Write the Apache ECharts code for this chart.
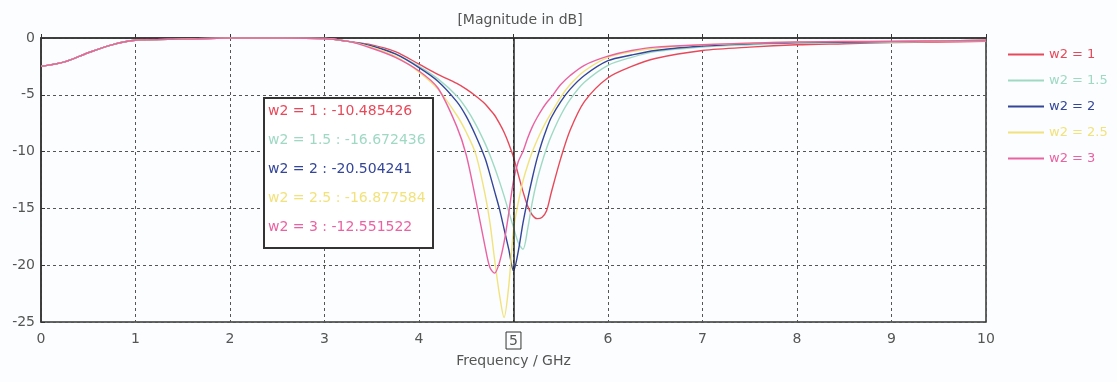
<!DOCTYPE html>
<html><head><meta charset="utf-8">
<script src="https://cdn.jsdelivr.net/npm/echarts@6/dist/echarts.min.js"></script>
<style>html,body{margin:0;padding:0;background:#fbfdfe;}#c{width:1117px;height:382px;}</style>
</head><body><div id="c"></div>
<script>
const freq = [0,0.25,0.5,0.75,1,1.5,2,2.5,3,3.25,3.5,3.75,4,4.2,4.4,4.5,4.6,4.7,4.75,4.8,4.85,4.9,4.95,5,5.05,5.1,5.15,5.2,5.25,5.3,5.35,5.4,5.5,5.6,5.75,6,6.25,6.5,7,7.5,8,8.5,9,9.5,10];
const w2_1   = [-2.5,-2.1,-1.3,-0.6,-0.2,-0.1,0,0,-0.05,-0.3,-0.6,-1.2,-2.3,-3.2,-4.0,-4.5,-5.1,-5.8,-6.3,-6.8,-7.5,-8.3,-9.3,-10.49,-12.0,-13.5,-14.8,-15.6,-15.9,-15.8,-15.2,-13.6,-10.6,-8.1,-5.6,-3.5,-2.5,-1.8,-1.1,-0.8,-0.6,-0.5,-0.4,-0.35,-0.3];
const w2_1_5 = [-2.5,-2.1,-1.3,-0.6,-0.2,-0.1,0,0,-0.05,-0.3,-0.7,-1.4,-2.5,-3.6,-5.1,-6.2,-7.6,-9.3,-10.3,-11.4,-12.6,-13.9,-15.3,-16.67,-18.0,-18.6,-16.8,-14.4,-12.5,-11.0,-9.7,-8.6,-6.8,-5.4,-3.9,-2.4,-1.7,-1.2,-0.8,-0.6,-0.45,-0.4,-0.35,-0.3,-0.25];
const w2_2   = [-2.5,-2.1,-1.3,-0.6,-0.2,-0.1,0,0,-0.05,-0.3,-0.7,-1.4,-2.6,-3.8,-5.6,-6.9,-8.6,-10.6,-12.0,-13.5,-15.0,-16.8,-18.6,-20.5,-18.8,-16.3,-14.2,-12.3,-10.6,-9.2,-8.0,-7.0,-5.6,-4.5,-3.3,-2.0,-1.5,-1.1,-0.7,-0.5,-0.4,-0.35,-0.3,-0.25,-0.2];
const w2_2_5 = [-2.5,-2.1,-1.3,-0.6,-0.2,-0.1,0,0,-0.05,-0.3,-0.8,-1.6,-3.0,-4.5,-6.8,-8.3,-10.2,-13.8,-16.2,-19.5,-22.5,-24.6,-21.8,-16.88,-14.5,-12.6,-11.2,-10.0,-9.0,-8.1,-7.3,-6.6,-5.2,-4.1,-2.9,-1.7,-1.2,-0.9,-0.6,-0.45,-0.35,-0.3,-0.3,-0.25,-0.2];
const w2_3   = [-2.5,-2.1,-1.3,-0.6,-0.2,-0.1,0,0,-0.05,-0.3,-0.9,-1.7,-2.9,-4.4,-7.8,-10.3,-14.2,-18.4,-20.2,-20.7,-19.8,-18.0,-15.4,-12.55,-10.9,-10.0,-8.8,-7.8,-7.0,-6.3,-5.7,-5.2,-4.1,-3.3,-2.4,-1.6,-1.1,-0.8,-0.6,-0.45,-0.35,-0.3,-0.3,-0.25,-0.2];
const seriesNames = ['w2 = 1','w2 = 1.5','w2 = 2','w2 = 2.5','w2 = 3'];
const markerValues = ['-10.485426','-16.672436','-20.504241','-16.877584','-12.551522'];
const markerFreq = 5;
const colors = ['#e8495a','#9fd9c4','#34469a','#f2e27c','#ea62a2'];
const allVals = [w2_1,w2_1_5,w2_2,w2_2_5,w2_3];

const chart = echarts.init(document.getElementById('c'));
const font = 'DejaVu Sans';
const series = allVals.map((v,k)=>({
  name: seriesNames[k], type:'line', showSymbol:false, smooth:0.3,
  lineStyle:{width:1.4,color:colors[k]}, itemStyle:{color:colors[k]},
  data: freq.map((f,i)=>[f,v[i]]),
  z: 3,
  markLine: k===0 ? {symbol:'none', silent:true, label:{show:false},
    lineStyle:{color:'#222',type:'solid',width:1.5}, data:[{xAxis:markerFreq}]} : undefined
}));
const rich = {};
seriesNames.forEach((n,k)=>{ rich['s'+k] = {fill:colors[k], fontSize:14, fontFamily:font, lineHeight:29}; });
const markerText = seriesNames.map((n,k)=>'{s'+k+'|'+n+' : '+markerValues[k]+'}').join('\n');

chart.setOption({
  backgroundColor:'#fbfdfe',
  animation:false,
  title:{text:'[Magnitude in dB]', left:515, top:8, textAlign:'center',
    textStyle:{fontSize:14, fontWeight:'normal', color:'#555', fontFamily:font}},
  legend:{orient:'vertical', left:1003, top:43, itemGap:13, itemWidth:36, itemHeight:2,
    icon:'rect', data:seriesNames.map((n,k)=>({name:n, textStyle:{color:colors[k]}})),
    textStyle:{fontSize:13, fontFamily:font}},
  grid:{left:41, right:131, top:38, bottom:60, show:true, borderColor:'#333', borderWidth:1.5},
  xAxis:{type:'value', min:0, max:10, interval:1,
    name:'Frequency / GHz', nameLocation:'middle', nameGap:30,
    nameTextStyle:{fontSize:14, color:'#555', fontFamily:font},
    axisLine:{lineStyle:{color:'#333', width:1.5}},
    axisTick:{inside:true, length:4, lineStyle:{color:'#333'}},
    axisLabel:{fontSize:14, color:'#555', fontFamily:font, margin:10,
      formatter:(v)=> v===markerFreq ? '{box|'+v+'}' : String(v),
      rich:{box:{borderColor:'#333', borderWidth:1, padding:[2,3,1,3], fontSize:14, color:'#555', fontFamily:font}}},
    splitLine:{show:true, lineStyle:{color:'#555', type:[3,3], width:1}}},
  yAxis:{type:'value', min:-25, max:0, interval:5,
    axisLine:{show:true, lineStyle:{color:'#333', width:1.5}},
    axisTick:{inside:true, length:4, lineStyle:{color:'#333'}},
    axisLabel:{fontSize:14, color:'#555', fontFamily:font, margin:6},
    splitLine:{show:true, lineStyle:{color:'#555', type:[3,3], width:1}}},
  graphic:[
    {type:'rect', left:263, top:97, z:10, shape:{width:169, height:150},
      style:{fill:'#ffffff', stroke:'#333', lineWidth:2}},
    {type:'text', left:268, top:104, z:11, style:{text:markerText, rich:rich, font:'14px '+font}}
  ],
  series: series
});
</script></body></html>
